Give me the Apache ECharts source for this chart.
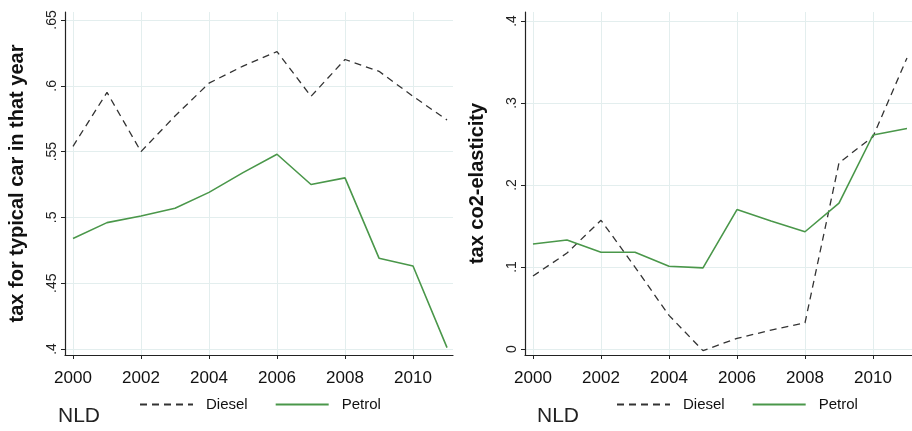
<!DOCTYPE html>
<html>
<head>
<meta charset="utf-8">
<script src="https://cdn.jsdelivr.net/npm/echarts@6/dist/echarts.min.js"></script>
<style>
  html, body { margin: 0; padding: 0; background: #fff; }
  #chart { width: 912px; height: 431px; }
</style>
</head>
<body>
<div id="chart"></div>
<script>
var years = [2000, 2001, 2002, 2003, 2004, 2005, 2006, 2007, 2008, 2009, 2010, 2011];
var yearTicks = [2000, 2002, 2004, 2006, 2008, 2010];

// left panel: tax for typical car
var dieselTax = [0.554, 0.595, 0.550, 0.577, 0.602, 0.615, 0.626, 0.592, 0.620, 0.611, 0.592, 0.574];
var petrolTax = [0.484, 0.496, 0.501, 0.507, 0.519, 0.534, 0.548, 0.525, 0.530, 0.469, 0.463, 0.401];
var taxTicks = [0.4, 0.45, 0.5, 0.55, 0.6, 0.65];

// right panel: tax co2-elasticity
var dieselElast = [0.089, 0.117, 0.157, 0.100, 0.041, -0.002, 0.013, 0.023, 0.032, 0.227, 0.259, 0.355];
var petrolElast = [0.128, 0.133, 0.118, 0.118, 0.101, 0.099, 0.170, 0.156, 0.143, 0.178, 0.261, 0.269];
var elastTicks = [0, 0.1, 0.2, 0.3, 0.4];

var seriesNames = ["Diesel", "Petrol"];

var FONT = "Liberation Sans, Arial, sans-serif";
var GREEN = "#4a974a";
var DARK = "#333333";
var GRID = "#e3eeee";

function pairs(values) {
  return values.map(function (v, i) { return [years[i], v]; });
}

function stripZero(v) {
  var s = String(Math.round(v * 100) / 100);
  return s.indexOf("0.") === 0 ? s.slice(1) : s;
}

function xAxisFor(gridIndex, max) {
  return {
    type: "value",
    gridIndex: gridIndex,
    min: 1999.765,
    max: max,
    axisLine: { show: true, onZero: false, lineStyle: { color: "#222", width: 1.2 } },
    axisTick: { show: true, length: 4, customValues: yearTicks, lineStyle: { color: "#222" } },
    axisLabel: {
      customValues: yearTicks,
      margin: 15,
      color: "#111",
      fontFamily: FONT,
      fontSize: 17,
      formatter: function (v) { return String(v); }
    },
    splitLine: { show: true, lineStyle: { color: GRID, width: 1 } }
  };
}

function yAxisFor(gridIndex, min, max, ticks, name) {
  return {
    type: "value",
    gridIndex: gridIndex,
    min: min,
    max: max,
    name: name,
    nameLocation: "middle",
    nameGap: 38,
    nameTextStyle: { color: "#111", fontFamily: FONT, fontSize: 20, fontWeight: "bold" },
    axisLine: { show: true, lineStyle: { color: "#222", width: 1.2 } },
    axisTick: { show: true, length: 4, customValues: ticks, lineStyle: { color: "#222" } },
    axisLabel: {
      customValues: ticks,
      rotate: 90,
      margin: 6,
      color: "#222",
      fontFamily: FONT,
      fontSize: 14,
      formatter: stripZero
    },
    splitLine: { show: true, lineStyle: { color: GRID, width: 1 } }
  };
}

function lineSeries(name, values, idx, dashed) {
  return {
    name: name,
    type: "line",
    xAxisIndex: idx,
    yAxisIndex: idx,
    data: pairs(values),
    symbol: "none",
    silent: true,
    animation: false,
    lineStyle: dashed
      ? { color: DARK, width: 1.3, type: [7, 5] }
      : { color: GREEN, width: 1.6 },
    itemStyle: { color: dashed ? DARK : GREEN }
  };
}

function legendAt(left) {
  return {
    data: seriesNames,
    left: left,
    top: 392,
    itemWidth: 53,
    itemHeight: 12,
    itemGap: 27,
    itemStyle: { opacity: 0 },
    textStyle: { color: "#111", fontFamily: FONT, fontSize: 15, padding: [0, 0, 0, 8] },
    selectedMode: false
  };
}

var chart = echarts.init(document.getElementById("chart"), null, { renderer: "canvas" });

chart.setOption({
  backgroundColor: "#fff",
  animation: false,
  grid: [
    { left: 65, right: 459, top: 12, bottom: 76 },
    { left: 525, right: 0, top: 12, bottom: 76 }
  ],
  xAxis: [xAxisFor(0, 2011.176), xAxisFor(1, 2011.147)],
  yAxis: [
    yAxisFor(0, 0.3954, 0.6561, taxTicks, "tax for typical car in that year"),
    yAxisFor(1, -0.0073, 0.411, elastTicks, "tax co2-elasticity")
  ],
  legend: [legendAt(134), legendAt(611)],
  graphic: [
    { type: "text", left: 58, top: 406, style: { text: "NLD", fill: "#222", font: "21px " + FONT } },
    { type: "text", left: 537, top: 406, style: { text: "NLD", fill: "#222", font: "21px " + FONT } }
  ],
  series: [
    lineSeries("Diesel", dieselTax, 0, true),
    lineSeries("Petrol", petrolTax, 0, false),
    lineSeries("Diesel", dieselElast, 1, true),
    lineSeries("Petrol", petrolElast, 1, false)
  ]
});
</script>
</body>
</html>
